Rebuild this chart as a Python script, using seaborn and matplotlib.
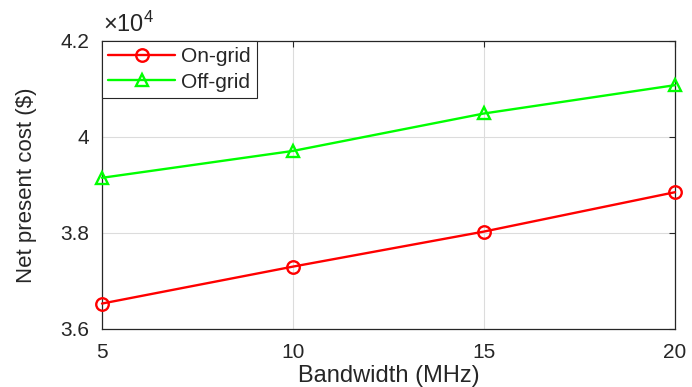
import matplotlib
matplotlib.use("Agg")
import matplotlib.pyplot as plt
import seaborn as sns
import pandas as pd
from matplotlib.ticker import FuncFormatter

# Net present cost against channel bandwidth
bandwidth = [5, 10, 15, 20]
on_grid = [36530, 37300, 38030, 38850]
off_grid = [39150, 39710, 40490, 41080]
series_names = ["On-grid", "Off-grid"]
x_ticks = [5, 10, 15, 20]
y_ticks = [36000, 38000, 40000, 42000]

sns.set_theme(style="white")
plt.rcParams["font.family"] = ["Liberation Sans", "DejaVu Sans"]
plt.rcParams["mathtext.fontset"] = "custom"
plt.rcParams["mathtext.rm"] = "Liberation Sans"
plt.rcParams["mathtext.it"] = "Liberation Sans"

df = pd.DataFrame({
    "Bandwidth": bandwidth * 2,
    "Cost": on_grid + off_grid,
    "Type": [series_names[0]] * len(bandwidth) + [series_names[1]] * len(bandwidth),
})

dark = "#262626"
fig = plt.figure(figsize=(6.92, 3.87), dpi=100)
ax = fig.add_axes([102 / 692, 58 / 387, 573 / 692, 288 / 387])

sns.lineplot(
    data=df, x="Bandwidth", y="Cost", hue="Type", style="Type",
    palette={"On-grid": "#ff0000", "Off-grid": "#00ff00"},
    markers={"On-grid": "o", "Off-grid": "^"}, dashes=False,
    markersize=9, markeredgewidth=1.7,
    linewidth=1.7, ax=ax, zorder=3, clip_on=False, legend=False,
)
data_lines = list(ax.get_lines())[:2]
for line in data_lines:
    line.set_markerfacecolor("none")
    line.set_markeredgecolor(line.get_color())

ax.set_xlim(5, 20)
ax.set_ylim(36000, 42000)
ax.set_xticks(x_ticks)
ax.set_yticks(y_ticks)
ax.yaxis.set_major_formatter(FuncFormatter(lambda v, p: f"{v / 1e4:g}"))
ax.grid(True, color="#dcdcdc", linewidth=0.8)
ax.set_axisbelow(True)

for s in ax.spines.values():
    s.set_color(dark)
    s.set_linewidth(0.9)
ax.tick_params(direction="in", length=4, width=0.8, colors=dark,
               top=True, right=True, labelsize=15, pad=10)
ax.tick_params(axis="y", pad=9)

ax.set_xlabel("Bandwidth (MHz)", fontsize=17, color=dark, labelpad=2.5)
ax.set_ylabel("Net present cost ($)", fontsize=16, color=dark, labelpad=17)

ax.text(0.002, 1.015, r"$\times\mathregular{10^4}$", transform=ax.transAxes,
        fontsize=17, color=dark, ha="left", va="bottom")

leg = ax.legend(data_lines, series_names, loc="upper left", bbox_to_anchor=(0, 1),
                borderaxespad=0, fancybox=False, framealpha=1,
                edgecolor=dark, fontsize=15, handlelength=3.2,
                handletextpad=0.3, labelspacing=0.3, borderpad=0.3)
leg.get_frame().set_linewidth(0.8)
for t in leg.get_texts():
    t.set_color(dark)

fig.savefig("out.png", dpi=100)
